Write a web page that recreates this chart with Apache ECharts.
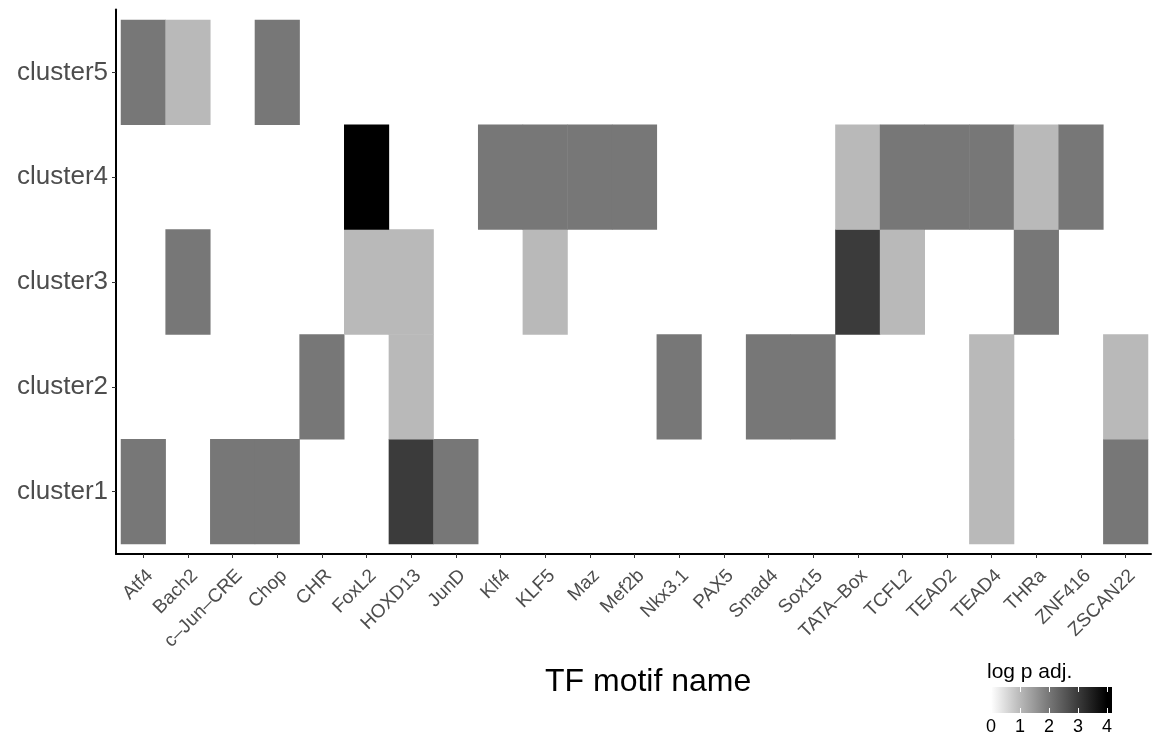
<!DOCTYPE html>
<html><head><meta charset="utf-8">
<script src="https://cdn.jsdelivr.net/npm/echarts@6/dist/echarts.min.js"></script>
<style>html,body{margin:0;padding:0;background:#fff}#c{width:1152px;height:738px}</style>
</head><body><div id="c"></div>
<script>
const tfNames = ['Atf4','Bach2','c\u2013Jun\u2013CRE','Chop','CHR','FoxL2','HOXD13','JunD','Klf4','KLF5','Maz','Mef2b','Nkx3.1','PAX5','Smad4','Sox15','TATA\u2013Box','TCFL2','TEAD2','TEAD4','THRa','ZNF416','ZSCAN22'];
const clusters = ['cluster1','cluster2','cluster3','cluster4','cluster5'];
const _ = null;
const cluster1Vals = [2,_,2,2,_,_,3,2,_,_,_,_,_,_,_,_,_,_,_,1,_,_,2];
const cluster2Vals = [_,_,_,_,2,_,1,_,_,_,_,_,2,_,2,2,_,_,_,1,_,_,1];
const cluster3Vals = [_,2,_,_,_,1,1,_,_,1,_,_,_,_,_,_,3,1,_,_,2,_,_];
const cluster4Vals = [_,_,_,_,_,4,_,_,2,2,2,2,_,_,_,_,1,2,2,2,1,2,_];
const cluster5Vals = [2,1,_,2,_,_,_,_,_,_,_,_,_,_,_,_,_,_,_,_,_,_,_];
const legendTicks = [0,1,2,3,4];
const scaleColors = ['#FFFFFF','#B9B9B9','#777777','#3B3B3B','#000000'];

const rows = [cluster1Vals,cluster2Vals,cluster3Vals,cluster4Vals,cluster5Vals];
const data = [];
rows.forEach((r,yi)=>r.forEach((v,xi)=>{ if(v!==null) data.push([xi,yi,v]); }));

const FONT = '"Liberation Sans", Arial, Helvetica, sans-serif';
// colourbar geometry (legend layout)
const barX = 987, barY = 687, barW = 125, barH = 26, v0X = 991, v4X = 1107;
const stops = legendTicks.map((v,i)=>({offset:(v0X + (v4X-v0X)*v/4 - barX)/barW, color:scaleColors[i]}));
stops.unshift({offset:0, color:scaleColors[0]});
stops.push({offset:1, color:scaleColors[scaleColors.length-1]});

const chart = echarts.init(document.getElementById('c'), null, {renderer:'canvas'});
chart.setOption({
  backgroundColor:'#fff',
  animation:false,
  textStyle:{fontFamily:FONT},
  title:[
    {text:'TF motif name', left:545, top:666, padding:0,
     textStyle:{fontSize:32, fontWeight:'normal', color:'#000', fontFamily:FONT}},
    {text:'log p adj.', left:987, top:662, padding:0,
     textStyle:{fontSize:21, fontWeight:'normal', color:'#000', fontFamily:FONT}}
  ],
  graphic:[
    {type:'rect', shape:{x:barX, y:barY, width:barW, height:barH}, z:1,
     style:{fill:new echarts.graphic.LinearGradient(0,0,1,0,stops)}, silent:true}
  ],
  grid:[
    {left:121, top:20, width:1027, height:524, containLabel:false},
    {left:116, top:9.5, width:1035, height:544.5, containLabel:false},
    {left:v0X, top:barY, width:v4X-v0X, height:barH, containLabel:false}
  ],
  xAxis:[
    {type:'category', gridIndex:0, data:tfNames, offset:10,
     axisLine:{show:false},
     axisTick:{show:true, alignWithLabel:true, length:4, lineStyle:{color:'#333', width:1}},
     axisLabel:{rotate:45, interval:0, margin:12, verticalAlign:'top', fontSize:19, color:'#4D4D4D', fontFamily:FONT},
     splitLine:{show:false}},
    {type:'value', gridIndex:1, min:0, max:1, axisLine:{show:true, onZero:false, lineStyle:{color:'#000', width:2}},
     axisTick:{show:false}, axisLabel:{show:false}, splitLine:{show:false}},
    {type:'value', gridIndex:2, min:0, max:4, interval:1, position:'bottom', z:10,
     axisLine:{show:false},
     axisTick:{show:true, inside:true, length:5, lineStyle:{color:'#fff', width:1}},
     axisLabel:{show:true, margin:5, fontSize:18, color:'#000', fontFamily:FONT,
       formatter:(v)=>legendTicks.includes(v)?String(v):''},
     splitLine:{show:false}},
    {type:'value', gridIndex:2, min:0, max:4, interval:1, position:'top', z:10,
     axisLine:{show:false},
     axisTick:{show:true, inside:true, length:5, lineStyle:{color:'#fff', width:1}},
     axisLabel:{show:false}, splitLine:{show:false}}
  ],
  yAxis:[
    {type:'category', gridIndex:0, data:clusters, offset:5,
     axisLine:{show:false},
     axisTick:{show:true, alignWithLabel:true, length:4, lineStyle:{color:'#333', width:1}},
     axisLabel:{margin:8, fontSize:26, color:'#4D4D4D', fontFamily:FONT},
     splitLine:{show:false}},
    {type:'value', gridIndex:1, min:0, max:1, axisLine:{show:true, onZero:false, lineStyle:{color:'#000', width:2}},
     axisTick:{show:false}, axisLabel:{show:false}, splitLine:{show:false}},
    {type:'value', gridIndex:2, min:0, max:1, show:false}
  ],
  visualMap:{
    type:'continuous', min:0, max:4, show:false, seriesIndex:0,
    inRange:{color:scaleColors}
  },
  series:[{
    type:'heatmap', xAxisIndex:0, yAxisIndex:0, data:data, silent:true,
    itemStyle:{borderWidth:0}, emphasis:{disabled:true}
  }]
});
</script></body></html>
